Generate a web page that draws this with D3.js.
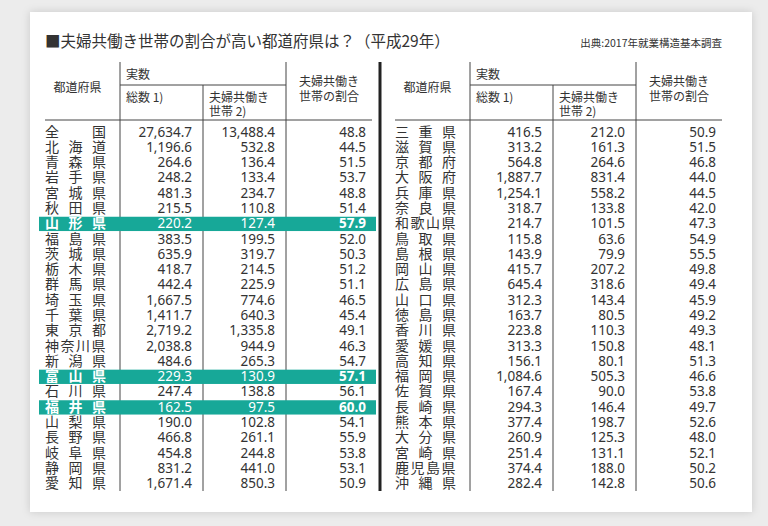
<!DOCTYPE html>
<head>
  <meta charset="utf-8">
  <style>
    body { margin: 0; background: #ececec; }
    text { font-family: "Noto Sans CJK JP", "Noto Sans", sans-serif; fill: #333; }
  </style>
  <script src="https://cdn.jsdelivr.net/npm/d3@7/dist/d3.min.js"></script>
</head>
<body>
<script>
  const prefs = ['全国','北海道','青森県','岩手県','宮城県','秋田県','山形県','福島県','茨城県','栃木県','群馬県','埼玉県',
    '千葉県','東京都','神奈川県','新潟県','富山県','石川県','福井県','山梨県','長野県','岐阜県','静岡県','愛知県',
    '三重県','滋賀県','京都府','大阪府','兵庫県','奈良県','和歌山県','鳥取県','島根県','岡山県','広島県','山口県',
    '徳島県','香川県','愛媛県','高知県','福岡県','佐賀県','長崎県','熊本県','大分県','宮崎県','鹿児島県','沖縄県'];
  const totals = [27634.7,1196.6,264.6,248.2,481.3,215.5,220.2,383.5,635.9,418.7,442.4,1667.5,
    1411.7,2719.2,2038.8,484.6,229.3,247.4,162.5,190.0,466.8,454.8,831.2,1671.4,
    416.5,313.2,564.8,1887.7,1254.1,318.7,214.7,115.8,143.9,415.7,645.4,312.3,
    163.7,223.8,313.3,156.1,1084.6,167.4,294.3,377.4,260.9,251.4,374.4,282.4];
  const dualIncome = [13488.4,532.8,136.4,133.4,234.7,110.8,127.4,199.5,319.7,214.5,225.9,774.6,
    640.3,1335.8,944.9,265.3,130.9,138.8,97.5,102.8,261.1,244.8,441.0,850.3,
    212.0,161.3,264.6,831.4,558.2,133.8,101.5,63.6,79.9,207.2,318.6,143.4,
    80.5,110.3,150.8,80.1,505.3,90.0,146.4,198.7,125.3,131.1,188.0,142.8];
  const ratios = [48.8,44.5,51.5,53.7,48.8,51.4,57.9,52.0,50.3,51.2,51.1,46.5,
    45.4,49.1,46.3,54.7,57.1,56.1,60.0,54.1,55.9,53.8,53.1,50.9,
    50.9,51.5,46.8,44.0,44.5,42.0,47.3,54.9,55.5,49.8,49.4,45.9,
    49.2,49.3,48.1,51.3,46.6,53.8,49.7,52.6,48.0,52.1,50.2,50.6];
  const highlighted = ['山形県','富山県','福井県'];

  const W = 768, H = 526;
  const svg = d3.select('body').append('svg').attr('width', W).attr('height', H);

  svg.append('rect').attr('x', 30).attr('y', 12).attr('width', 722).attr('height', 500)
    .attr('fill', '#fff').style('filter', 'drop-shadow(0 0 4px rgba(0,0,0,0.15))');

  svg.append('text').attr('x', 45).attr('y', 47).attr('font-size', 15.5).text('■夫婦共働き世帯の割合が高い都道府県は？（平成29年）');
  svg.append('text').attr('x', 722).attr('y', 47).attr('font-size', 10.5).attr('text-anchor', 'end').text('出典:2017年就業構造基本調査');

  const fmt = d3.format(',.1f');
  const y = d3.scaleBand().domain(d3.range(24)).range([124, 491]);
  const ink = '#444';

  const drawTable = (x0, offset) => {
    const cols = [x0, x0 + 75, x0 + 158, x0 + 241, x0 + 327];
    const g = svg.append('g');
    g.append('text').attr('x', (cols[0] + cols[1]) / 2 - 5).attr('y', 92).attr('font-size', 12).attr('text-anchor', 'middle').text('都道府県');
    g.append('text').attr('x', cols[1] + 6).attr('y', 79).attr('font-size', 12).text('実数');
    g.append('text').attr('x', cols[1] + 6).attr('y', 102).attr('font-size', 12).text('総数 1)');
    g.append('text').attr('x', cols[2] + 6).attr('y', 102).attr('font-size', 12).text('夫婦共働き');
    g.append('text').attr('x', cols[2] + 6).attr('y', 116).attr('font-size', 12).text('世帯 2)');
    g.append('text').attr('x', (cols[3] + cols[4]) / 2).attr('y', 86).attr('font-size', 12).attr('text-anchor', 'middle').text('夫婦共働き');
    g.append('text').attr('x', (cols[3] + cols[4]) / 2).attr('y', 101).attr('font-size', 12).attr('text-anchor', 'middle').text('世帯の割合');
    g.append('line').attr('x1', cols[1]).attr('x2', cols[3]).attr('y1', 85).attr('y2', 85).attr('stroke', ink);
    g.append('line').attr('x1', cols[0]).attr('x2', cols[4]).attr('y1', 120).attr('y2', 120).attr('stroke', ink);
    [1, 2, 3].forEach(i => {
      g.append('line').attr('x1', cols[i]).attr('x2', cols[i])
        .attr('y1', i === 2 ? 85 : 62).attr('y2', 491).attr('stroke', ink);
    });

    const rows = d3.range(24).map(i => i + offset);
    const row = g.selectAll('g.row').data(rows).enter().append('g')
      .attr('transform', (d, i) => `translate(0,${y(i)})`);
    const hl = d => highlighted.includes(prefs[d]);
    row.filter(hl).append('rect').attr('x', x0 - 6).attr('y', 1).attr('width', cols[4] - x0 + 10)
      .attr('height', y.bandwidth() - 1).attr('fill', '#17a898');
    const tc = d => hl(d) ? '#fff' : '#333';
    row.each(function(d) {
      const chars = prefs[d].split('');
      const step = chars.length === 4 ? 15.5 : chars.length === 3 ? 23.5 : 47;
      const gg = d3.select(this);
      chars.forEach((c, k) => gg.append('text').attr('x', x0 + k * step).attr('y', 12.5)
        .attr('font-size', 14).style('fill', tc(d)).attr('font-weight', hl(d) ? 'bold' : 'normal').text(c));
    });
    const num = (xr, fn, bold) => row.append('text').attr('x', xr).attr('y', 12.5).attr('text-anchor', 'end')
      .attr('font-size', 13.5).style('font-family', '"Noto Sans", sans-serif').style('fill', tc)
      .attr('font-weight', d => bold && hl(d) ? 'bold' : 'normal').text(fn);
    num(cols[2] - 11, d => fmt(totals[d]), false);
    num(cols[3] - 11, d => fmt(dualIncome[d]), false);
    num(cols[4] - 6, d => ratios[d].toFixed(1), true);
  };

  drawTable(45, 0);
  drawTable(395, 24);
  svg.append('line').attr('x1', 380).attr('x2', 380).attr('y1', 62).attr('y2', 491).attr('stroke', '#222').attr('stroke-width', 3);
</script>
</body>
